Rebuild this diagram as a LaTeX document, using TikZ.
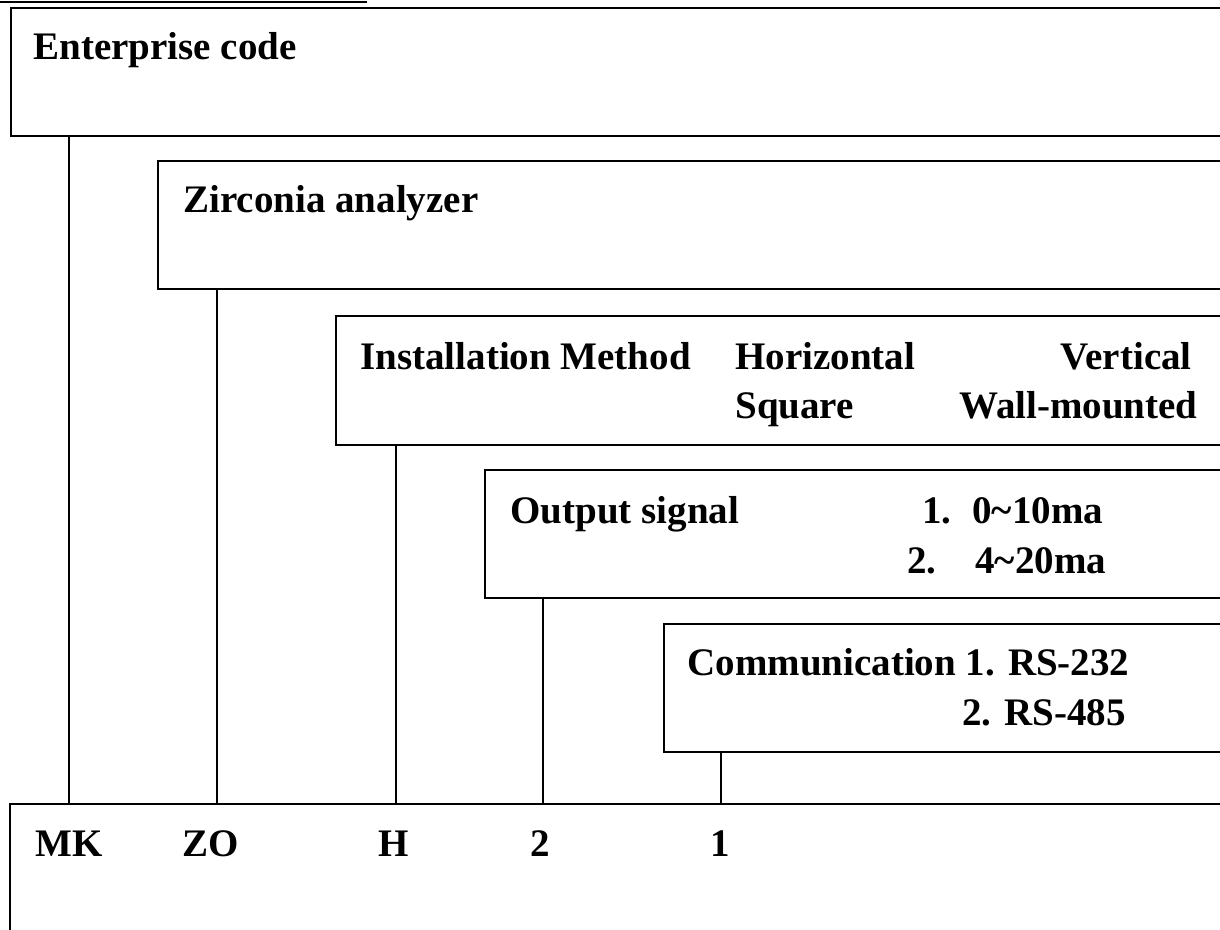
\documentclass[tikz,border=0pt]{standalone}
\usepackage{fontspec}
\setmainfont{Liberation Serif}
\usetikzlibrary{positioning}
\tikzset{
  field/.style={draw,line width=1.2pt,anchor=north west,inner sep=0pt,minimum height=64pt},
  entry/.style={anchor=base west,inner sep=0pt,font=\fontsize{19.5}{23}\selectfont\bfseries},
  drop/.style={line width=0.9pt},
}
\begin{document}
\begin{tikzpicture}[x=0.5pt,y=-0.5pt]
\useasboundingbox (0,0) rectangle (1220,930);
\clip (0,0) rectangle (1220,930);
\draw[line width=1pt] (0,2) -- (367,2);

% boxes, all running off the right edge
\node[field,minimum width=615pt] (ent) at (10,7) {};
\node[field,minimum width=541.5pt] (zir) at (157,160) {};
\node[field,minimum width=452.5pt,minimum height=64.5pt] (inst) at (335,315) {};
\node[field,minimum width=378pt] (out) at (484,469) {};
\node[field,minimum width=288.5pt] (comm) at (663,623) {};
\node[field,minimum width=615.5pt,minimum height=66pt] (code) at (9,803) {};

% texts
\node[entry] (tent) at (33,60) {Enterprise code};
\node[entry] (tzir) at (183,213) {Zirconia analyzer};
\node[entry] (tinst) at (360,370) {Installation Method};
\node[entry] (thor) at (735,370) {Horizontal};
\node[entry,anchor=base east] (tver) at (1192,370) {Vertical};
\node[entry] (tsq) at (735,418) {Square};
\node[entry,anchor=base east] (twall) at (1198,418) {Wall-mounted};
\node[entry] (tout) at (510,523) {Output signal};
\node[entry] (tone) at (922,523) {1.};
\node[entry] (tma1) at (972,523) {0\textasciitilde10ma};
\node[entry] (ttwo) at (907,573) {2.};
\node[entry] (tma2) at (975,573) {4\textasciitilde20ma};
\node[entry] (tcomm) at (687,675) {Communication 1. RS-232};
\node[entry,anchor=base east] (trs) at (1126,725) {2. RS-485};

% code letters
\node[entry] (mk) at (35,856) {MK};
\node[entry] (zo) at (182,856) {ZO};
\node[entry] (h) at (378,856) {H};
\node[entry] (n2) at (530,856) {2};
\node[entry] (n1) at (710,856) {1};

% drops into the code box
\draw[drop] (ent.south west) ++(59,0) coordinate (c1) -- (c1 |- code.north);
\draw[drop] (zir.south west) ++(60,0) coordinate (c2) -- (c2 |- code.north);
\draw[drop] (inst.south west) ++(61,0) coordinate (c3) -- (c3 |- code.north);
\draw[drop] (out.south west) ++(59,0) coordinate (c4) -- (c4 |- code.north);
\draw[drop] (comm.south west) ++(58,0) coordinate (c5) -- (c5 |- code.north);
\end{tikzpicture}
\end{document}
